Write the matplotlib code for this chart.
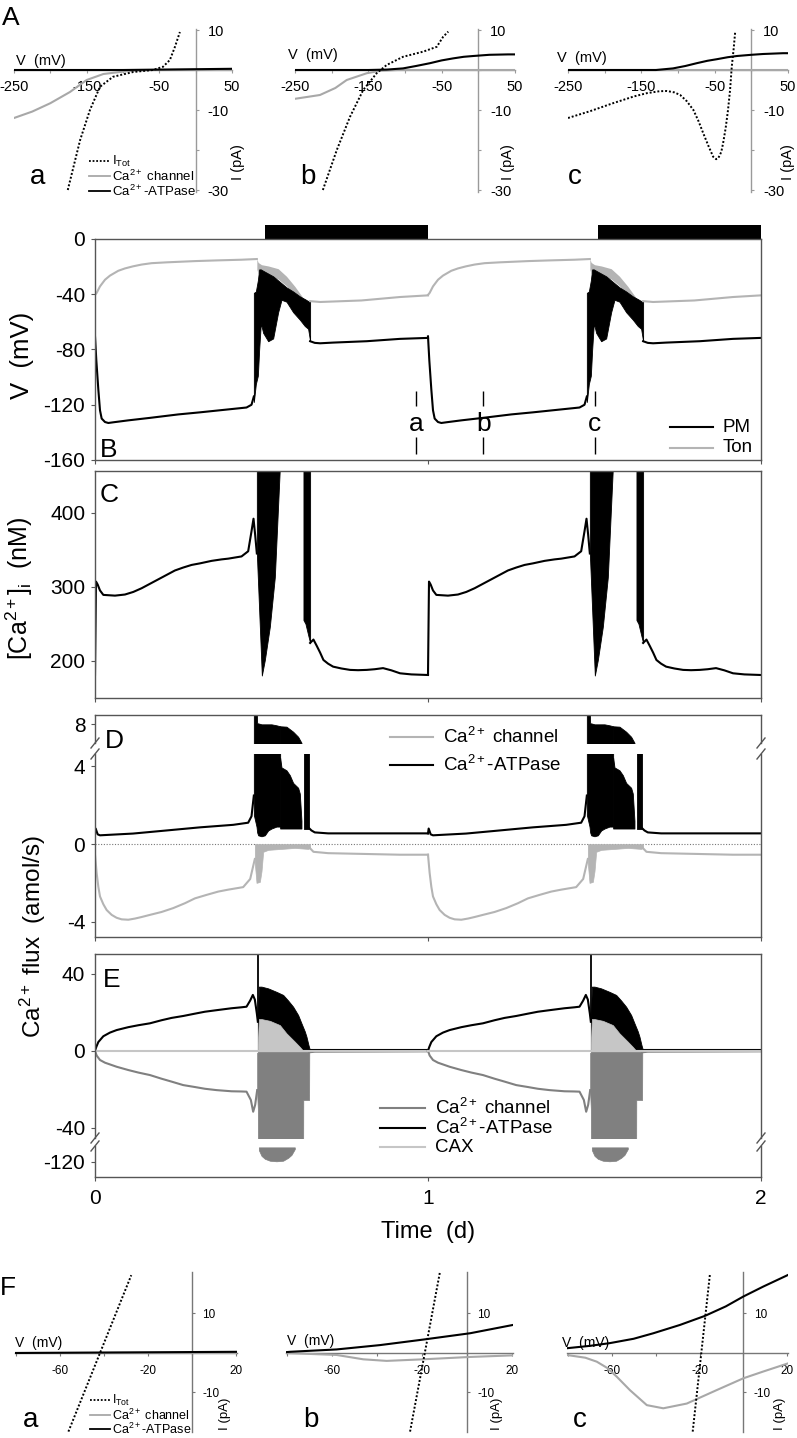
import numpy as np
import matplotlib
matplotlib.use("Agg")
import matplotlib.pyplot as plt
from matplotlib.lines import Line2D

W, H = 797, 1438

plt.rcParams['font.family'] = ['Liberation Sans', 'DejaVu Sans']
plt.rcParams['mathtext.fontset'] = 'custom'
plt.rcParams['mathtext.rm'] = 'Liberation Sans'
plt.rcParams['mathtext.it'] = 'Liberation Sans:italic'
plt.rcParams['mathtext.bf'] = 'Liberation Sans:bold'
plt.rcParams['axes.unicode_minus'] = False

# ---------------- data ----------------
# I-V curves, panel A (V in mV, I in pA)
AA_TOT_V = [-176, -159, -145.5, -131.7, -113.8, -86, -59, -45, -35.5, -28.5, -21.7]
AA_TOT_I = [-30, -17.5, -10, -4.2, -1.7, -0.5, 0, 0.8, 2.5, 5.8, 9.5]
AA_CH_V = [-250, -225, -200, -173, -150, -127, -95, -60, 50]
AA_CH_I = [-12, -10.4, -8.3, -5.5, -2.5, -1.0, -0.3, 0, 0]
AA_ATP_V = [-250, -100, 0, 50]
AA_ATP_I = [0, 0, 0.2, 0.3]

AB_TOT_V = [-212, -193, -175, -157, -138.6, -125, -102.7, -75, -56.7, -48, -41]
AB_TOT_I = [-30, -20, -11.7, -5, -0.8, 1.25, 3.3, 4.6, 5.8, 8.3, 9.6]
AB_CH_V = [-250, -216, -195, -179.5, -152, -134, -110, 50]
AB_CH_I = [-7.2, -6.25, -4.5, -2.5, -0.8, -0.2, 0, 0]
AB_ATP_V = [-250, -150, -125, -102.7, -85, -66, -50, -34.5, -20, -7, 15, 40.6, 50]
AB_ATP_I = [0, 0, 0.1, 0.4, 1.0, 1.7, 2.4, 2.9, 3.3, 3.5, 3.8, 3.9, 3.9]

AC_TOT_V = [-250, -220, -188.6, -160, -142.7, -125, -115, -105, -97, -88, -79, -72,
            -65.6, -58, -52, -48, -45, -41, -38.5, -35, -31.8, -29, -26.7, -24, -22]
AC_TOT_I = [-12, -10.3, -8.3, -6.6, -5.8, -5.3, -5.25, -5.6, -6.25, -7.8, -10, -12.8,
            -15.8, -19.2, -21.7, -22.3, -22, -20.5, -18.3, -14.5, -10, -5, 0.8, 5.5, 9.6]
AC_CH_V = [-250, 50]
AC_CH_I = [0, 0]
AC_ATP_V = [-250, -130, -106.8, -90, -74.5, -60, -47, -32, -19.6, 0, 16, 43.3, 50]
AC_ATP_I = [0, 0, 0.4, 1.0, 1.7, 2.3, 2.7, 3.2, 3.5, 3.8, 4.0, 4.2, 4.2]

# I-V curves, panel F
FA_TOT_V = [-56.2, -27.6]
FA_TOT_I = [-19.9, 19.7]
FA_CH_V = [-80.5, 20.5]
FA_CH_I = [0, 0]
FA_ATP_V = [-80.5, 20.5]
FA_ATP_I = [0, 0.3]

FB_TOT_V = [-25.2, -11.9]
FB_TOT_I = [-19.9, 20.6]
FB_CH_V = [-80.5, -57.8, -46, -35.6, -19.3, 1.5, 20.5]
FB_CH_I = [0, -0.5, -1.6, -2.0, -1.6, -1.0, -0.6]
FB_ATP_V = [-80.5, -78.5, -57.8, -38.5, -19.3, 1.5, 20.5]
FB_ATP_I = [0.2, 0.3, 0.9, 2.0, 3.4, 5.0, 7.1]

FC_TOT_V = [-23.1, -15.2]
FC_TOT_I = [-19.9, 20.2]
FC_CH_V = [-80.5, -72, -66.8, -62, -57.7, -51.7, -44, -36.5, -25.8, -12.2, 0, 9, 20.5]
FC_CH_I = [-0.5, -1.2, -2.2, -3.8, -6, -9.4, -13.2, -14, -12.8, -9.4, -6.4, -4.7, -2.6]
FC_ATP_V = [-80.5, -70, -60.8, -50, -41, -28.9, -17.5, -8, 0, 9, 20.5]
FC_ATP_I = [1.2, 1.8, 2.5, 3.6, 5.0, 7.1, 9.4, 11.8, 14.3, 16.8, 19.8]

# time courses: one daily cycle (t in d, within the day), repeated on both days
DAYS = [0, 1]
DARK_START = [0.51, 1.51]
DARK_END = [1.0, 2.0]
MARK_T = [0.964, 1.166, 1.5]
MARK_LABELS = ['a', 'b', 'c']
TIME_TICKS = [0, 1, 2]

# B: membrane potentials (mV)
PM_PRE_T = [0.0, 0.004, 0.01, 0.015, 0.02, 0.03, 0.04, 0.055, 0.1, 0.165, 0.25, 0.315,
            0.455, 0.47, 0.477]
PM_PRE_V = [-70.5, -88, -109, -124, -130, -132.5, -133.2, -132.7, -131.3, -129.5, -127,
            -125.5, -122, -120, -114]
PM_OSC_T = [0.477, 0.483, 0.489, 0.493, 0.498, 0.505, 0.52, 0.535, 0.55, 0.56,
            0.575, 0.595, 0.615, 0.63, 0.64, 0.646]
PM_OSC_HI = [-39, -38, -30, -22, -22, -23, -25, -27, -30, -32, -35, -38, -41.5, -43.5, -45, -45]
PM_OSC_LO = [-118, -105, -99, -80, -61, -68, -74, -72, -53, -44, -45.4, -53, -58.4, -63, -65, -74]
PM_POST_T = [0.646, 0.66, 0.676, 0.715, 0.816, 0.916, 1.0]
PM_POST_V = [-74, -75.2, -75.5, -75, -74, -72.3, -71.6]

TON_PRE_T = [0.0, 0.005, 0.015, 0.03, 0.045, 0.07, 0.09, 0.114, 0.14, 0.17, 0.215, 0.3,
             0.365, 0.44, 0.486]
TON_PRE_V = [-40.5, -39, -34.3, -29.5, -26.5, -23, -21.3, -19.8, -18.5, -17.5, -16.9,
             -16, -15.5, -15, -14.5]
TON_OSC_T = [0.486, 0.49, 0.5, 0.52, 0.55, 0.575, 0.6, 0.625, 0.646]
TON_OSC_HI = [-14.5, -17, -18.6, -19.5, -21.5, -27, -34.3, -42.7, -45]
TON_OSC_LO = [-22, -25, -26, -27, -29, -34, -41, -48, -50]
TON_POST_T = [0.646, 0.676, 0.8, 0.916, 1.0]
TON_POST_V = [-45, -45.6, -44.5, -42, -40.8]

# C: cytosolic Ca2+ (nM)
CA_PRE_T = [0.0, 0.003, 0.008, 0.015, 0.025, 0.06, 0.09, 0.115, 0.14, 0.165, 0.19, 0.215,
            0.24, 0.265, 0.29, 0.315, 0.35, 0.38, 0.4, 0.44, 0.46, 0.47, 0.476, 0.481, 0.486]
CA_PRE_V = [181, 307, 303, 295, 289, 288, 289.5, 293, 298, 304, 310, 316, 322, 326,
            329.5, 331.6, 335, 337, 338, 341, 348, 375, 392, 370, 345]
CA_BLOB_T = [0.486, 0.501, 0.51, 0.525, 0.54, 0.556]
CA_BLOB_LO = [345, 180, 201, 246, 313, 470]
CA_STRIP_T = [0.626, 0.632, 0.64, 0.646]
CA_STRIP_LO = [255, 250, 235, 224]
CA_POST_T = [0.646, 0.656, 0.666, 0.676, 0.686, 0.70, 0.715, 0.74, 0.766, 0.79, 0.816,
             0.84, 0.865, 0.89, 0.916, 0.95, 1.0]
CA_POST_V = [224, 228.6, 220, 211, 201, 196, 192, 189.5, 187.6, 187.2, 187.6, 188.5,
             190, 187, 183, 181.5, 180.7]

# D: PM fluxes (amol/s)
D_ATP_PRE_T = [0.0, 0.002, 0.008, 0.015, 0.114, 0.215, 0.315, 0.415, 0.46, 0.47, 0.477]
D_ATP_PRE_V = [0.55, 0.8, 0.5, 0.45, 0.54, 0.7, 0.86, 0.99, 1.1, 1.43, 2.5]
D_ATP_B1_T = [0.477, 0.485, 0.487, 0.49, 0.50, 0.51, 0.52, 0.53, 0.545, 0.556]
D_ATP_B1_LO = [1.5, 0.9, 0.6, 0.45, 0.4, 0.45, 0.7, 0.8, 0.9, 0.9]
D_ATP_B1_HI = [9.0, 9.0, 8.05, 8.05, 8.0, 8.0, 8.0, 8.0, 7.95, 7.9]
D_ATP_B2_T = [0.556, 0.56, 0.575, 0.585, 0.595, 0.61, 0.615, 0.62]
D_ATP_B2_HI = [4.45, 3.95, 3.8, 3.55, 3.15, 2.9, 2.6, 1.2]
D_ATP_CAP_T = [0.556, 0.575, 0.595, 0.61, 0.62]
D_ATP_CAP_HI = [7.9, 7.88, 7.62, 7.36, 7.05]
D_ATP_STRIP_T = [0.628, 0.644]
D_ATP_POST_T = [0.644, 0.65, 0.66, 0.7, 1.0]
D_ATP_POST_V = [0.8, 0.7, 0.6, 0.55, 0.55]

D_CH_PRE_T = [0.0, 0.005, 0.01, 0.015, 0.025, 0.035, 0.05, 0.065, 0.08, 0.1, 0.12, 0.14,
              0.165, 0.2, 0.235, 0.27, 0.3, 0.335, 0.37, 0.4, 0.445, 0.466, 0.48]
D_CH_PRE_V = [-0.55, -1.5, -2.2, -2.7, -3.1, -3.4, -3.65, -3.8, -3.88, -3.9, -3.84, -3.76,
              -3.65, -3.5, -3.3, -3.05, -2.8, -2.62, -2.45, -2.35, -2.22, -1.8, -0.77]
D_CH_OSC_T = [0.48, 0.485, 0.495, 0.5, 0.505, 0.52, 0.6, 0.64, 0.646]
D_CH_OSC_LO = [-1.0, -2.0, -1.95, -1.4, -0.4, -0.3, -0.2, -0.25, -0.2]
D_CH_POST_T = [0.646, 0.656, 0.7, 0.916, 1.0]
D_CH_POST_V = [-0.22, -0.4, -0.47, -0.55, -0.55]

# E: tonoplast fluxes (amol/s)
E_ATP_PRE_T = [0.0, 0.004, 0.01, 0.025, 0.045, 0.065, 0.1, 0.13, 0.165, 0.2, 0.23, 0.265,
               0.3, 0.33, 0.365, 0.41, 0.44, 0.455, 0.466, 0.474, 0.48, 0.486, 0.489]
E_ATP_PRE_V = [0.0, 2.0, 4.5, 7.5, 9.4, 10.7, 12.2, 13.2, 14.2, 15.8, 17.0, 18.0, 19.2,
               20.2, 21.0, 22.0, 22.5, 22.8, 26.0, 28.9, 26.5, 19.3, 15.0]
E_ATP_SPIKE_T = 0.4895
E_ATP_SPIKE = (15.0, 60.0)
E_ATP_OSC_T = [0.489, 0.492, 0.50, 0.52, 0.545, 0.565, 0.58, 0.595, 0.61, 0.62, 0.63,
               0.635, 0.641, 0.646]
E_ATP_OSC_HI = [15, 33.2, 33.2, 32.3, 30.5, 28.9, 26, 22.8, 18.5, 14.2, 10, 7.3, 3, 0]
E_ATP_POST_T = [0.646, 1.0]
E_ATP_POST_V = [0.3, 0.3]

E_CAX_OSC_T = [0.489, 0.492, 0.50, 0.525, 0.555, 0.575, 0.60, 0.615, 0.625]
E_CAX_OSC_HI = [3, 16.4, 16.4, 15.5, 13.3, 9.0, 4.7, 2.0, 0]
E_CAX_T = [0.0, 1.0]
E_CAX_V = [0.0, 0.0]

E_CH_PRE_T = [0.0, 0.005, 0.015, 0.03, 0.065, 0.1, 0.13, 0.165, 0.2, 0.23, 0.265, 0.3,
              0.33, 0.365, 0.41, 0.44, 0.455, 0.468, 0.475, 0.481, 0.487]
E_CH_PRE_V = [0.0, -2.5, -4.8, -6.2, -8.3, -10.0, -11.3, -12.6, -14.5, -16.0, -17.8,
              -18.8, -19.7, -20.4, -21.0, -21.1, -21.2, -25.5, -31.6, -28.0, -20.4]
E_CH_OSC_T = [0.487, 0.489, 0.4895, 0.625, 0.6255, 0.643, 0.6435]
E_CH_OSC_LO = [-22, -30, -60, -60, -25.5, -25.5, -1]
E_CH_OSC_HI = [-1, -1, -0.5, -0.5, -0.5, -0.5, -0.5]
E_CH_BLOB_T = [0.492, 0.50, 0.51, 0.525, 0.545, 0.565, 0.58, 0.59, 0.60]
E_CH_BLOB_LO = [-114, -117, -118.5, -119.5, -119.8, -119.5, -118, -116.5, -113.5]
E_CH_BLOB_HI = -112.6
E_CH_POST_T = [0.643, 0.66, 1.0]
E_CH_POST_V = [-0.8, -0.5, -0.3]

# ---------------- styling ----------------
SPINE = '#555555'
TON = '#b4b4b4'
DCH = '#b4b4b4'
ECH = '#808080'
CAX = '#c6c6c6'
IVCH = '#a8a8a8'
LW = 1.5
TICK_FS = 15

fig = plt.figure(figsize=(W / 100, H / 100), dpi=100)


def px_axes(x0, y0, x1, y1):
    return fig.add_axes([x0 / W, 1 - y1 / H, (x1 - x0) / W, (y1 - y0) / H])


def ftext(x, y, s, **kw):
    return fig.text(x / W, 1 - y / H, s, **kw)


def legend_px(rows, x0, x1, xt, ys, fs, lw=LW):
    for (label, color, ls), y in zip(rows, ys):
        fig.add_artist(Line2D([x0 / W, x1 / W], [1 - y / H] * 2, color=color, lw=lw,
                              ls=ls, transform=fig.transFigure))
        ftext(xt, y, label, fontsize=fs, ha='left', va='center')


def style_main(ax, ylim, yticks, top=True, bottom=True):
    ax.set_xlim(0, 2)
    ax.set_ylim(*ylim)
    for s in ax.spines.values():
        s.set_color(SPINE)
        s.set_linewidth(1.0)
    ax.spines['top'].set_visible(top)
    ax.spines['bottom'].set_visible(bottom)
    ax.set_yticks(yticks)
    ax.set_xticks(TIME_TICKS)
    ax.tick_params(direction='out', length=3, width=0.8, color=SPINE, labelsize=TICK_FS, pad=4)
    ax.tick_params(axis='x', labelbottom=False, bottom=bottom)


def break_marks(ax, y):
    bb = ax.get_position()
    dx = 4 / (bb.width * W)
    dy = 5 / (bb.height * H)
    for x in (0, 1):
        ax.plot([x - dx, x + dx], [y - dy, y + dy], transform=ax.transAxes,
                color=SPINE, lw=1, clip_on=False)


def style_iv(ax, xlim, ylim, xticks, xlabels, yticks, ylabels, color, fs, xpad, ypad):
    ax.set_xlim(*xlim)
    ax.set_ylim(*ylim)
    ax.patch.set_alpha(0)
    ax.spines['left'].set_visible(False)
    ax.spines['top'].set_visible(False)
    ax.spines['bottom'].set_position(('data', 0))
    ax.spines['right'].set_position(('data', 0))
    for k in ('bottom', 'right'):
        ax.spines[k].set_color(color)
        ax.spines[k].set_linewidth(1.0)
    ax.yaxis.tick_right()
    ax.set_xticks(xticks, xlabels)
    ax.set_yticks(yticks, ylabels)
    ax.tick_params(axis='x', direction='out', length=2.5, color=color, labelsize=fs, pad=xpad)
    ax.tick_params(axis='y', direction='out', length=2.5, color=color, labelsize=fs, pad=ypad)


def plot_iv(ax, tot, ch, atp):
    ax.plot(*ch, color=IVCH, lw=LW, zorder=3)
    ax.plot(*atp, color='k', lw=LW, zorder=3)
    ax.plot(*tot, color='k', lw=1.4, ls=(0, (1, 1)), zorder=3)


def sh(t, d):
    return np.asarray(t) + d


TOT_LABEL = r'I$_{\mathrm{Tot}}$'
CH_LABEL = r'Ca$^{2+}$ channel'
ATP_LABEL = r'Ca$^{2+}$-ATPase'

# ---------------- panel A ----------------
A_YLIM = (-30.5, 10.2)
A_XT = [-250, -200, -150, -100, -50, 0, 50]
A_XL = ['-250', '', '-150', '', '-50', '', '50']
A_YT = [-30, -20, -10, 0, 10]
A_YL = ['-30', '', '-10', '', '10']
a_axes = [px_axes(14, 29.2, 232, 192), px_axes(295, 29.2, 515, 192), px_axes(568, 29.2, 788, 192)]
a_data = [((AA_TOT_V, AA_TOT_I), (AA_CH_V, AA_CH_I), (AA_ATP_V, AA_ATP_I)),
          ((AB_TOT_V, AB_TOT_I), (AB_CH_V, AB_CH_I), (AB_ATP_V, AB_ATP_I)),
          ((AC_TOT_V, AC_TOT_I), (AC_CH_V, AC_CH_I), (AC_ATP_V, AC_ATP_I))]
for ax, (tot, ch, atp) in zip(a_axes, a_data):
    style_iv(ax, (-250, 50), A_YLIM, A_XT, A_XL, A_YT, A_YL, '#9a9a9a', 10.5, 4.5, 6)
    plot_iv(ax, tot, ch, atp)

for x, y in [(16, 68), (288, 62), (557, 65)]:
    ftext(x, y, 'V  (mV)', fontsize=10.5, ha='left', va='bottom')
for x in (238, 508, 788):
    ftext(x, 162, 'I (pA)', fontsize=10.5, rotation=90, ha='center', va='center')
for x, s in [(30, 'a'), (300, 'b'), (568, 'c')]:
    ftext(x, 184, s, fontsize=20, ha='left', va='baseline')
legend_px([(TOT_LABEL, 'k', (0, (1, 1))), (CH_LABEL, IVCH, '-'), (ATP_LABEL, 'k', '-')],
          89, 110, 112, [161, 176, 191], 9.5, lw=1.3)
ftext(2, 25, 'A', fontsize=19, ha='left', va='baseline')

# ---------------- panel B ----------------
ax_bar = px_axes(95, 225, 761, 239)
ax_bar.set_xlim(0, 2)
ax_bar.set_ylim(0, 1)
ax_bar.axis('off')
for s, e in zip(DARK_START, DARK_END):
    ax_bar.axvspan(s, e, color='k', lw=0)

axB = px_axes(95, 239, 761, 460)
style_main(axB, (-160, 0), [-160, -120, -80, -40, 0])
for d in DAYS:
    axB.fill_between(sh(TON_OSC_T, d), TON_OSC_LO, TON_OSC_HI, color=TON, lw=0)
    axB.plot(sh(TON_PRE_T, d), TON_PRE_V, color=TON, lw=LW)
    axB.plot(sh(TON_POST_T, d), TON_POST_V, color=TON, lw=LW)
    axB.fill_between(sh(PM_OSC_T, d), PM_OSC_LO, PM_OSC_HI, color='k', lw=0.6)
    axB.plot(sh(PM_PRE_T, d), PM_PRE_V, color='k', lw=LW)
    axB.plot(sh(PM_POST_T, d), PM_POST_V, color='k', lw=LW)
axB.vlines(MARK_T, -121.1, -110.2, color='k', lw=1.0)
axB.vlines(MARK_T, -156, -143.7, color='k', lw=1.0)
for t, s in zip(MARK_T, MARK_LABELS):
    axB.text(t, -138.8, s, fontsize=19, ha='center', va='baseline')
legend_px([('PM', 'k', '-'), ('Ton', TON, '-')], 670, 713, 723, [427, 448], 13.5)
ftext(100, 457, 'B', fontsize=19, ha='left', va='baseline')
ftext(22, 355, 'V  (mV)', fontsize=18.5, rotation=90, ha='center', va='center')

# ---------------- panel C ----------------
axC = px_axes(95, 471, 761, 698)
style_main(axC, (149.6, 456.5), [200, 300, 400])
for d in DAYS:
    axC.plot(sh(CA_PRE_T, d), CA_PRE_V, color='k', lw=LW)
    axC.fill_between(sh(CA_BLOB_T, d), CA_BLOB_LO, 480, color='k', lw=0.6)
    axC.fill_between(sh(CA_STRIP_T, d), CA_STRIP_LO, 480, color='k', lw=0.6)
    axC.plot(sh(CA_POST_T, d), CA_POST_V, color='k', lw=LW)
ftext(100, 502, 'C', fontsize=19, ha='left', va='baseline')
ftext(19, 588, r'[Ca$^{2+}$]$_{\mathrm{i}}$  (nM)', fontsize=18, rotation=90,
      ha='center', va='center')

# ---------------- panel D ----------------
axDt = px_axes(95, 715, 761, 743)
axDb = px_axes(95, 754, 761, 937)
style_main(axDt, (7.04, 8.48), [8], bottom=False)
style_main(axDb, (-4.79, 4.64), [-4, 0, 4], top=False)
axDb.axhline(0, color='#777777', lw=0.8, ls=(0, (1, 1.5)), zorder=1)
for ax in (axDt, axDb):
    for d in DAYS:
        ax.fill_between(sh(D_CH_OSC_T, d), D_CH_OSC_LO, 0, color=DCH, lw=0.5)
        ax.plot(sh(D_CH_PRE_T, d), D_CH_PRE_V, color=DCH, lw=LW)
        ax.plot(sh(D_CH_POST_T, d), D_CH_POST_V, color=DCH, lw=LW)
        ax.fill_between(sh(D_ATP_B1_T, d), D_ATP_B1_LO, D_ATP_B1_HI, color='k', lw=0.6)
        ax.fill_between(sh(D_ATP_B2_T, d), 0.8, D_ATP_B2_HI, color='k', lw=0.6)
        ax.fill_between(sh(D_ATP_CAP_T, d), 5.5, D_ATP_CAP_HI, color='k', lw=0.6)
        ax.fill_between(sh(D_ATP_STRIP_T, d), 0.8, 5.5, color='k', lw=0.6)
        ax.plot(sh(D_ATP_PRE_T, d), D_ATP_PRE_V, color='k', lw=LW)
        ax.plot(sh(D_ATP_POST_T, d), D_ATP_POST_V, color='k', lw=LW)
break_marks(axDt, 0)
break_marks(axDb, 1)
legend_px([(CH_LABEL, DCH, '-'), (ATP_LABEL, 'k', '-')], 390, 433, 443, [737, 765], 13.5)
ftext(105, 748, 'D', fontsize=19, ha='left', va='baseline')

# ---------------- panel E ----------------
axEt = px_axes(95, 954, 761, 1138)
axEb = px_axes(95, 1146, 761, 1177)
style_main(axEt, (-45.2, 50.1), [-40, 0, 40], bottom=False)
style_main(axEb, (-127.9, -111.9), [-120], top=False)
axEb.tick_params(axis='x', labelbottom=True, pad=6)
for ax in (axEt, axEb):
    for d in DAYS:
        ax.fill_between(sh(E_CH_OSC_T, d), E_CH_OSC_LO, E_CH_OSC_HI, color=ECH, lw=0.5)
        ax.fill_between(sh(E_CH_BLOB_T, d), E_CH_BLOB_LO, E_CH_BLOB_HI, color=ECH, lw=0.5)
        ax.plot(sh(E_CH_PRE_T, d), E_CH_PRE_V, color=ECH, lw=LW)
        ax.plot(sh(E_CH_POST_T, d), E_CH_POST_V, color=ECH, lw=LW)
        ax.fill_between(sh(E_ATP_OSC_T, d), 0, E_ATP_OSC_HI, color='k', lw=0.6)
        ax.vlines(E_ATP_SPIKE_T + d, *E_ATP_SPIKE, color='k', lw=1.3)
        ax.plot(sh(E_ATP_PRE_T, d), E_ATP_PRE_V, color='k', lw=LW)
        ax.plot(sh(E_ATP_POST_T, d), E_ATP_POST_V, color='k', lw=LW)
        ax.plot(sh(E_CAX_T, d), E_CAX_V, color=CAX, lw=LW)
        ax.fill_between(sh(E_CAX_OSC_T, d), 0, E_CAX_OSC_HI, color=CAX, lw=0.5)
break_marks(axEt, 0)
break_marks(axEb, 1)
legend_px([(CH_LABEL, ECH, '-'), (ATP_LABEL, 'k', '-'), ('CAX', CAX, '-')],
          380, 425, 435, [1108, 1128, 1147], 13.5)
ftext(103, 987, 'E', fontsize=19, ha='left', va='baseline')
ftext(33, 937, r'Ca$^{2+}$ flux  (amol/s)', fontsize=17.5, rotation=90,
      ha='center', va='center')
ftext(428, 1232, 'Time  (d)', fontsize=17, ha='center', va='center')

# ---------------- panel F ----------------
F_YLIM = (-20, 20.5)
F_XT = [-80, -60, -40, -20, 0, 20]
F_XL = ['', '-60', '', '-20', '', '20']
f_axes = [px_axes(15, 1272, 237, 1432), px_axes(285.5, 1272, 513, 1432),
          px_axes(566.7, 1272, 788.4, 1432)]
f_data = [((FA_TOT_V, FA_TOT_I), (FA_CH_V, FA_CH_I), (FA_ATP_V, FA_ATP_I)),
          ((FB_TOT_V, FB_TOT_I), (FB_CH_V, FB_CH_I), (FB_ATP_V, FB_ATP_I)),
          ((FC_TOT_V, FC_TOT_I), (FC_CH_V, FC_CH_I), (FC_ATP_V, FC_ATP_I))]
for ax, (tot, ch, atp) in zip(f_axes, f_data):
    style_iv(ax, (-80.5, 20.5), F_YLIM, F_XT, F_XL, [-10, 10], ['-10', '10'], '#777777', 8.5, 6, 5)
    plot_iv(ax, tot, ch, atp)

for x, y in [(15, 1350), (287, 1348), (562, 1350)]:
    ftext(x, y, 'V  (mV)', fontsize=10, ha='left', va='bottom')
for x in (225, 497, 780):
    ftext(x, 1414, 'I (pA)', fontsize=9.5, rotation=90, ha='center', va='center')
for x, s in [(23, 'a'), (303, 'b'), (573, 'c')]:
    ftext(x, 1427, s, fontsize=20, ha='left', va='baseline')
legend_px([(TOT_LABEL, 'k', (0, (1, 1))), (CH_LABEL, IVCH, '-'), (ATP_LABEL, 'k', '-')],
          90, 110, 112, [1400, 1415, 1429], 9, lw=1.3)
ftext(0, 1295, 'F', fontsize=19, ha='left', va='baseline')

fig.savefig('out.png', dpi=100)
